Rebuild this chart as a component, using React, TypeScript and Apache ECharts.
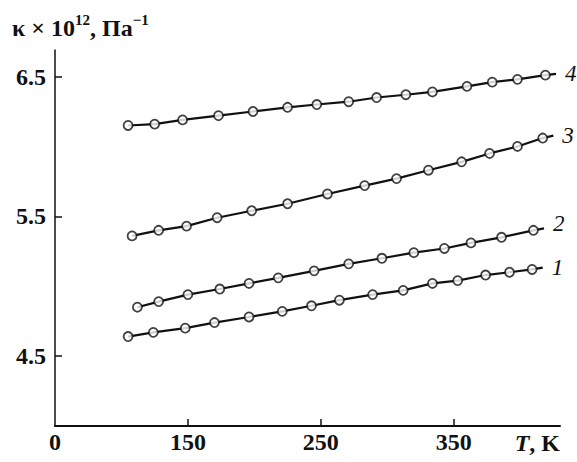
import React, { useEffect, useRef } from "react";
import * as echarts from "echarts";

const SERIF = "Liberation Serif";
const INK = "#111";

// Temperature T, K and compressibility κ×10^12, Pa^-1 for each curve
const t1 = [105, 124, 148, 170, 196, 221, 243, 264, 289, 312, 334, 353, 374, 392, 409];
const k1 = [4.64, 4.67, 4.7, 4.74, 4.78, 4.82, 4.86, 4.9, 4.94, 4.97, 5.02, 5.04, 5.08, 5.1, 5.12];

const t2 = [112, 128, 150, 174, 196, 218, 245, 271, 296, 320, 343, 363, 386, 410];
const k2 = [4.85, 4.89, 4.94, 4.98, 5.02, 5.06, 5.11, 5.16, 5.2, 5.24, 5.27, 5.31, 5.35, 5.4];

const t3 = [108, 128, 149, 172, 198, 225, 255, 283, 307, 331, 356, 377, 398, 417];
const k3 = [5.36, 5.4, 5.43, 5.49, 5.54, 5.59, 5.66, 5.72, 5.77, 5.83, 5.89, 5.95, 6.0, 6.06];

const t4 = [105, 125, 146, 173, 199, 225, 247, 271, 292, 314, 334, 360, 379, 398, 419];
const k4 = [6.15, 6.16, 6.19, 6.22, 6.25, 6.28, 6.3, 6.32, 6.35, 6.37, 6.39, 6.43, 6.46, 6.48, 6.51];

const curveNames = ["1", "2", "3", "4"];
const curveT = [t1, t2, t3, t4];
const curveK = [k1, k2, k3, k4];

// Axis ticks; the left end of the temperature axis is labelled as the origin
const xTickValues = [50, 150, 250, 350];
const xTickLabels = ["0", "150", "250", "350"];
const yTickValues = [4.5, 5.5, 6.5];

// Least-squares slope of a curve
function slopeOf(t: number[], k: number[]): number {
  const n = t.length;
  const mt = t.reduce((a, b) => a + b, 0) / n;
  const mk = k.reduce((a, b) => a + b, 0) / n;
  let sxy = 0;
  let sxx = 0;
  for (let i = 0; i < n; i++) {
    sxy += (t[i] - mt) * (k[i] - mk);
    sxx += (t[i] - mt) * (t[i] - mt);
  }
  return sxy / sxx;
}

// Curve through its points, carried a little past the last one
function curveLine(t: number[], k: number[], extend: number): number[][] {
  const pts = t.map((v, i) => [v, k[i]]);
  const n = t.length;
  const s = slopeOf(t, k);
  pts.push([t[n - 1] + extend, k[n - 1] + s * extend]);
  return pts;
}

export default function App() {
  const ref = useRef<HTMLDivElement>(null);

  useEffect(() => {
    if (!ref.current) return;
    const chart = echarts.init(ref.current, undefined, { renderer: "svg" });

    const series: any[] = [];
    curveNames.forEach((name, i) => {
      series.push({
        type: "line",
        name,
        data: curveLine(curveT[i], curveK[i], 8),
        symbol: "none",
        silent: true,
        z: 2,
        lineStyle: { color: INK, width: 2.2 },
        endLabel: {
          show: true,
          formatter: name,
          fontFamily: SERIF,
          fontStyle: "italic",
          fontSize: 23,
          color: INK,
          distance: 9,
          offset: name === "2" ? [0, -5] : [0, 0],
        },
      });
      series.push({
        type: "scatter",
        name: name + "-pts",
        data: curveT[i].map((t, j) => [t, curveK[i][j]]),
        symbol: "circle",
        symbolSize: 9,
        silent: true,
        z: 3,
        itemStyle: { color: "#fff", borderColor: INK, borderWidth: 1.8 },
      });
    });

    const labelFont = { fontFamily: SERIF, fontSize: 24, fontWeight: "bold" as const, color: INK };

    chart.setOption({
      animation: false,
      backgroundColor: "#fff",
      grid: { left: 55, right: 17, top: 50, bottom: 36 },
      xAxis: {
        type: "value",
        min: 50,
        max: 430,
        axisLine: { show: true, onZero: false, lineStyle: { color: INK, width: 2 } },
        axisTick: {
          show: true,
          inside: true,
          length: 7,
          customValues: xTickValues.slice(1),
          lineStyle: { color: INK, width: 1.5 },
        },
        axisLabel: {
          customValues: xTickValues,
          formatter: (v: number) => {
            const idx = xTickValues.indexOf(v);
            return idx >= 0 ? xTickLabels[idx] : "";
          },
          ...labelFont,
          margin: 4,
        },
        splitLine: { show: false },
      },
      yAxis: {
        type: "value",
        min: 4.0,
        max: 6.69,
        axisLine: { show: true, onZero: false, lineStyle: { color: INK, width: 1.5 } },
        axisTick: {
          show: true,
          inside: true,
          length: 7,
          customValues: yTickValues,
          lineStyle: { color: INK, width: 1.5 },
        },
        axisLabel: {
          customValues: yTickValues,
          formatter: (v: number) => v.toFixed(1),
          ...labelFont,
          margin: 9,
        },
        splitLine: { show: false },
      },
      graphic: [
        {
          type: "text",
          left: 12,
          top: 12,
          style: {
            text: "{a|κ × 10}{s|12}{a|, Па}{s|−1}",
            fill: INK,
            rich: {
              a: { fontFamily: SERIF, fontSize: 24, fontWeight: "bold", lineHeight: 28, verticalAlign: "bottom", fill: INK },
              s: { fontFamily: SERIF, fontSize: 15, fontWeight: "bold", lineHeight: 28, verticalAlign: "top", fill: INK },
            },
          },
        },
        {
          type: "text",
          right: 17,
          top: 431,
          style: {
            text: "{i|T}{a|, K}",
            fill: INK,
            rich: {
              i: { fontFamily: SERIF, fontSize: 24, fontWeight: "bold", fontStyle: "italic", fill: INK },
              a: { fontFamily: SERIF, fontSize: 24, fontWeight: "bold", fill: INK },
            },
          },
        },
      ],
      series,
    });

    return () => chart.dispose();
  }, []);

  return (
    <div
      ref={ref}
      style={{ position: "fixed", left: 0, top: 0, width: 577, height: 462, background: "#fff" }}
    />
  );
}
